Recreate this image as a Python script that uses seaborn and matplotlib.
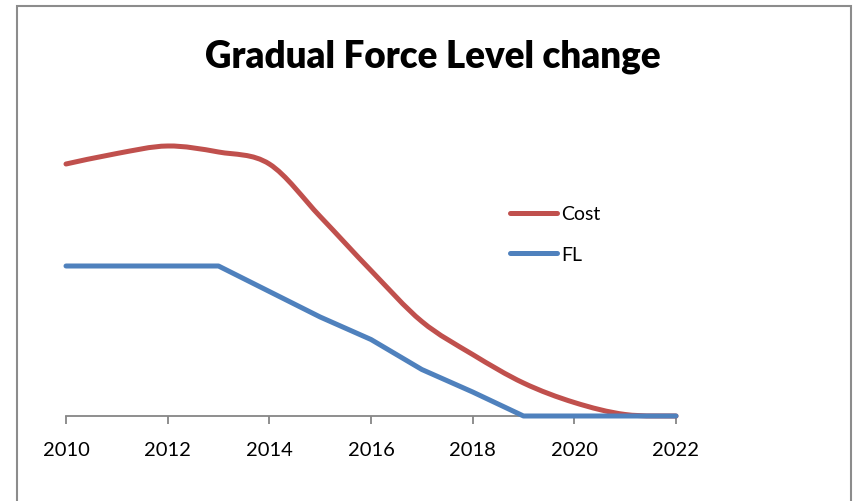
import numpy as np
import pandas as pd
import seaborn as sns
import matplotlib.pyplot as plt
from matplotlib.path import Path
from matplotlib.patches import PathPatch, Rectangle
from matplotlib.lines import Line2D

years = list(range(2010, 2023))
cost = [168, 175, 180, 176, 168, 133, 97, 63, 41, 22, 9, 1, 0]
fl = [100, 100, 100, 100, 83, 66, 51, 31, 16, 0, 0, 0, 0]
xticks = [2010, 2012, 2014, 2016, 2018, 2020, 2022]
series_names = ['Cost', 'FL']

RED = '#C0504D'
BLUE = '#4F81BD'
GRAY = '#868686'


def smooth_path(x, y):
    # Excel-like smoothed line: Catmull-Rom segments as cubic Beziers
    pts = np.column_stack([x, y]).astype(float)
    ext = np.vstack([pts[0], pts, pts[-1]])
    verts = [pts[0]]
    codes = [Path.MOVETO]
    for i in range(len(pts) - 1):
        p0, p1, p2, p3 = ext[i], ext[i + 1], ext[i + 2], ext[i + 3]
        verts += [p1 + (p2 - p0) / 6, p2 - (p3 - p1) / 6, p2]
        codes += [Path.CURVE4] * 3
    return Path(verts, codes)


sns.set_style('white')
plt.rcParams['font.family'] = ['Lato', 'DejaVu Sans']
plt.rcParams['text.color'] = 'black'
plt.rcParams['xtick.labelcolor'] = 'black'

df = pd.DataFrame({'year': years, 'Cost': cost, 'FL': fl})

fig = plt.figure(figsize=(8.54, 5.02), dpi=100)
ax = fig.add_axes([66 / 854, 85 / 502, 610 / 854, 300 / 502])

sns.lineplot(data=df, x='year', y='FL', color=BLUE, lw=3.6, ax=ax,
             solid_capstyle='round', clip_on=False, zorder=3)
ax.add_patch(PathPatch(smooth_path(df['year'], df['Cost']), facecolor='none',
                       edgecolor=RED, lw=3.6, capstyle='round',
                       clip_on=False, zorder=2))

ax.set_xlim(2010, 2022)
ax.set_ylim(0, 200)
ax.set_xticks(xticks)
ax.set_yticks([])
ax.set_xlabel('')
ax.set_ylabel('')
for s in ['left', 'top', 'right']:
    ax.spines[s].set_visible(False)
ax.spines['bottom'].set_color(GRAY)
ax.spines['bottom'].set_linewidth(1.3)
ax.tick_params(axis='x', direction='out', length=6, width=1.3, color=GRAY,
               labelsize=14.5, pad=12, bottom=True, labelcolor='black')

fig.text(433 / 854, 1 - 68 / 502, 'Gradual Force Level change',
         ha='center', va='baseline', fontsize=26.5, fontweight='heavy',
         color='black')

handles = [Line2D([], [], color=RED, lw=3.6, solid_capstyle='round'),
           Line2D([], [], color=BLUE, lw=3.6, solid_capstyle='round')]
fig.legend(handles, series_names, loc='center left',
           bbox_to_anchor=(510 / 854, 1 - 235 / 502), frameon=False,
           fontsize=14, handlelength=2.4, handletextpad=0.25,
           labelspacing=1.2, borderpad=0, borderaxespad=0,
           labelcolor='black')

fig.patches.append(Rectangle((17 / 854, -0.05), 834 / 854, 495 / 502 + 0.05,
                             transform=fig.transFigure, fill=False,
                             edgecolor='#8c8c8c', lw=1.5))

fig.savefig('out.png', dpi=100)
